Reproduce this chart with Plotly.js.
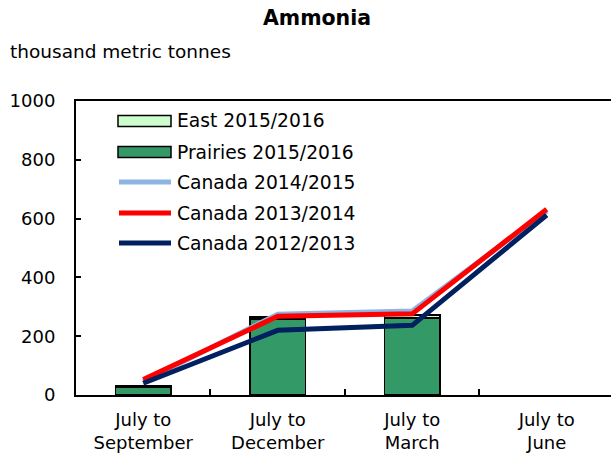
<!DOCTYPE html>
<html>
<head>
<meta charset="utf-8">
<script src="https://cdn.plot.ly/plotly-3.0.1.min.js"></script>
<style>html,body{margin:0;padding:0;overflow:hidden;background:#fff}</style>
</head>
<body>
<div id="chart" style="width:611px;height:458px"></div>
<script>
const categories = ["July to<br>September", "July to<br>December", "July to<br>March", "July to<br>June"];
const prairies1516 = [27, 258, 262, null];
const east1516 = [4, 8, 10, null];
const canada1415 = [45, 275, 286, 625];
const canada1314 = [53, 268, 276, 632];
const canada1213 = [40, 220, 237, 612];
const yTicks = [0, 200, 400, 600, 800, 1000];

const font = "DejaVu Sans, Verdana, sans-serif";
const traces = [
  {type: "bar", name: "Prairies 2015/2016", x: categories, y: prairies1516, width: 0.41,
   marker: {color: "#339966", line: {color: "#000", width: 1.5}}},
  {type: "bar", name: "East 2015/2016", x: categories, y: east1516, width: 0.41,
   marker: {color: "#ccffcc", line: {color: "#000", width: 1.5}}},
  {type: "scatter", mode: "lines", name: "Canada 2014/2015", x: categories, y: canada1415,
   line: {color: "#8eb4e3", width: 5}},
  {type: "scatter", mode: "lines", name: "Canada 2013/2014", x: categories, y: canada1314,
   line: {color: "#ff0000", width: 5}},
  {type: "scatter", mode: "lines", name: "Canada 2012/2013", x: categories, y: canada1213,
   line: {color: "#002060", width: 5}}
];
traces.forEach(t => t.showlegend = false);

// Hand-built legend (order as in the reference)
const legendOrder = [1, 0, 2, 3, 4];
const L = 76, R = 611, T = 101, B = 395;
const px = v => (v - L) / (R - L);
const py = v => (B - v) / (B - T);
const shapes = [];
const annotations = [];
const rowY = [121, 152, 182, 213, 243];
legendOrder.forEach((ti, i) => {
  const t = traces[ti];
  const y = rowY[i];
  if (t.type === "bar") {
    shapes.push({type: "rect", xref: "paper", yref: "paper", x0: px(118), x1: px(171), y0: py(y - 5.5), y1: py(y + 5.5),
                 fillcolor: t.marker.color, line: {color: "#000", width: 1.5}});
  } else {
    shapes.push({type: "line", xref: "paper", yref: "paper", x0: px(119), x1: px(171), y0: py(y), y1: py(y),
                 line: {color: t.line.color, width: 5}});
  }
  annotations.push({text: t.name, xref: "paper", yref: "paper", x: px(175), y: py(y), xanchor: "left", yanchor: "middle",
                    showarrow: false, font: {family: font, size: 18.7, color: "#000"}});
});
annotations.push({text: "thousand metric tonnes", xref: "paper", yref: "paper", x: px(8), y: py(52),
                  xanchor: "left", yanchor: "middle", showarrow: false, font: {family: font, size: 18.5, color: "#000"}});

const layout = {
  width: 611, height: 458,
  margin: {l: L, r: 0, t: T, b: 458 - B},
  paper_bgcolor: "#fff", plot_bgcolor: "#fff",
  barmode: "stack",
  font: {family: font, size: 18, color: "#000"},
  title: {text: "<b>Ammonia</b>", font: {family: font, size: 20.5, color: "#000"},
          x: 317/611, xanchor: "center", xref: "container",
          y: 1 - 18/458, yanchor: "middle", yref: "container"},
  xaxis: {type: "category", range: [-0.5, 3.478], showline: true, linecolor: "#000", linewidth: 2,
          mirror: true, ticks: "inside", tickson: "boundaries", ticklen: 6, tickcolor: "#000", tickwidth: 2,
          showgrid: false, zeroline: false, tickfont: {size: 18}, ticklabelstandoff: 7},
  yaxis: {range: [0, 1000], tickvals: yTicks, showline: true, linecolor: "#000", linewidth: 2,
          ticks: "inside", ticklen: 5, tickcolor: "#000", tickwidth: 2, showgrid: false, zeroline: false,
          tickfont: {size: 18}, ticklabelstandoff: 15},
  showlegend: false,
  shapes: shapes,
  annotations: annotations
};

Plotly.newPlot("chart", traces, layout, {displayModeBar: false, staticPlot: true});
</script>
</body>
</html>
